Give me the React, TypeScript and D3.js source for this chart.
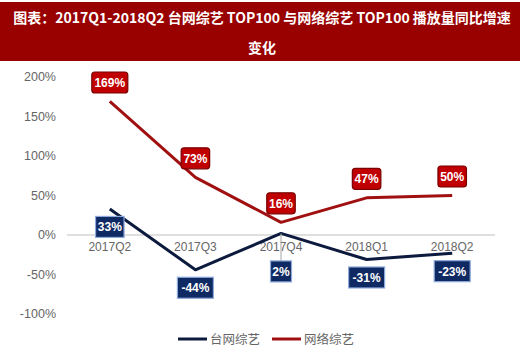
import { useRef, useEffect } from 'react'
import * as d3 from 'd3'

const quarters = ['2017Q2', '2017Q3', '2017Q4', '2018Q1', '2018Q2']
const tvValues = [33, -44, 2, -31, -23]
const webValues = [169, 73, 16, 47, 50]
const yTicks = [-100, -50, 0, 50, 100, 150, 200]
const seriesNames = ['台网综艺', '网络综艺']
const titleLines = ['图表：2017Q1-2018Q2 台网综艺 TOP100 与网络综艺 TOP100 播放量同比增速', '变化']

const App = () => {
  const svgRef = useRef(null)

  useEffect(() => {
    const svg = d3.select(svgRef.current)
    svg.selectAll('*').remove()

    const width = 520
    const navy = '#0c1a3e'
    const red = '#a01010'
    const gray = '#666666'

    // title bar
    svg.append('rect').attr('x', 0).attr('y', 2).attr('width', width).attr('height', 59).attr('fill', '#990000')
    svg
      .selectAll('.title')
      .data(titleLines)
      .join('text')
      .attr('x', width / 2 + 2)
      .attr('y', (d, i) => 23 + i * 30)
      .attr('text-anchor', 'middle')
      .attr('fill', '#fff')
      .attr('font-family', '"Noto Sans CJK SC", sans-serif')
      .attr('font-weight', 'bold')
      .attr('font-size', 14)
      .text((d) => d)

    const x = d3.scaleBand().domain(quarters).range([67, 495])
    const y = d3.scaleLinear().domain([-100, 200]).range([314, 77])
    const cx = (q) => x(q) + x.bandwidth() / 2

    // y axis labels
    svg
      .append('g')
      .selectAll('text')
      .data(yTicks)
      .join('text')
      .attr('x', 56)
      .attr('y', (d) => y(d) + 4)
      .attr('text-anchor', 'end')
      .attr('fill', gray)
      .attr('font-family', '"Liberation Sans Narrow", Arial, sans-serif')
      .attr('font-size', 12.5)
      .text((d) => d + '%')

    // zero line
    svg.append('line').attr('x1', 67).attr('x2', 495).attr('y1', y(0)).attr('y2', y(0)).attr('stroke', '#bfbfbf')

    // x labels
    svg
      .append('g')
      .selectAll('text')
      .data(quarters)
      .join('text')
      .attr('x', (d) => cx(d))
      .attr('y', y(0) + 16)
      .attr('text-anchor', 'middle')
      .attr('fill', gray)
      .attr('font-family', '"Liberation Sans", Arial, sans-serif')
      .attr('font-size', 12)
      .text((d) => d)

    const series = [
      { name: seriesNames[0], values: tvValues, color: navy, fill: '#0f2a63', stroke: '#8eaadb', below: true },
      { name: seriesNames[1], values: webValues, color: red, fill: '#c00000', stroke: '#7a0000', below: false },
    ]

    const lineGen = d3
      .line()
      .x((d, i) => cx(quarters[i]))
      .y((d) => y(d))

    series.forEach((s) => {
      svg
        .append('path')
        .attr('d', lineGen(s.values))
        .attr('fill', 'none')
        .attr('stroke', s.color)
        .attr('stroke-width', 3)
        .attr('stroke-linejoin', 'round')
    })

    // data labels
    series.forEach((s) => {
      s.values.forEach((v, i) => {
        const px = cx(quarters[i])
        const py = y(v)
        let ly = s.below ? py + 18 : py - 19
        // the tv label collides with the zero line at 2017Q4, push it down with a leader
        if (s.below && Math.abs(v) < 10) {
          ly = py + 38
          svg.append('line').attr('x1', px).attr('x2', px).attr('y1', py).attr('y2', ly - 10).attr('stroke', '#a6a6a6')
        }
        const label = v + '%'
        const w = label.length * 7.5 + 6
        svg
          .append('rect')
          .attr('x', px - w / 2)
          .attr('y', ly - 10.5)
          .attr('width', w)
          .attr('height', 21)
          .attr('rx', s.below ? 0 : 3)
          .attr('fill', s.fill)
          .attr('stroke', s.stroke)
          .attr('stroke-width', 1.2)
        svg
          .append('text')
          .attr('x', px)
          .attr('y', ly + 4.5)
          .attr('text-anchor', 'middle')
          .attr('fill', '#fff')
          .attr('font-family', '"Liberation Sans", Arial, sans-serif')
          .attr('font-weight', 'bold')
          .attr('font-size', 12)
          .text(label)
      })
    })

    // legend
    const legend = svg.append('g').attr('transform', 'translate(178, 339)')
    series.forEach((s, i) => {
      const g = legend.append('g').attr('transform', `translate(${i * 94}, 0)`)
      g.append('line').attr('x1', 0).attr('x2', 29).attr('y1', 0).attr('y2', 0).attr('stroke', s.color).attr('stroke-width', 3)
      g.append('text')
        .attr('x', 32)
        .attr('y', 5)
        .attr('fill', gray)
        .attr('font-family', '"Noto Sans CJK SC", sans-serif')
        .attr('font-size', 12.5)
        .text(s.name)
    })
  }, [])

  return (
    <svg
      ref={svgRef}
      width={520}
      height={353}
      style={{ position: 'absolute', left: 0, top: 0, background: '#fff' }}
    ></svg>
  )
}

export default App
